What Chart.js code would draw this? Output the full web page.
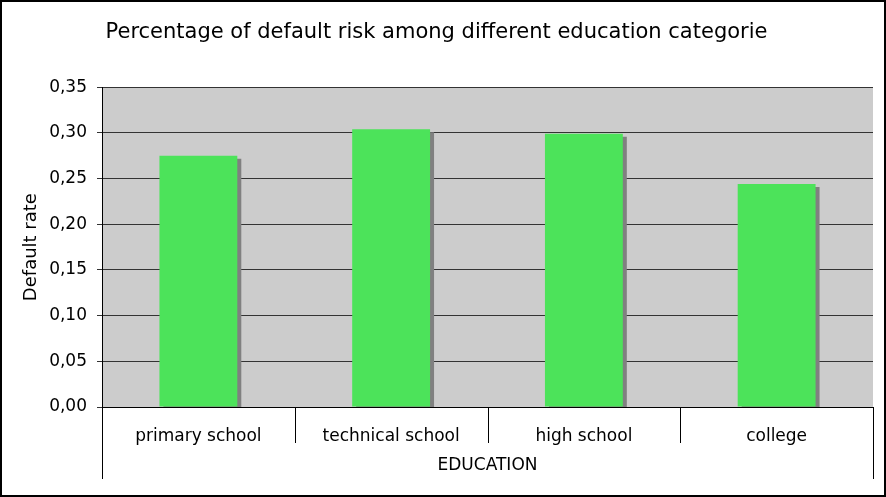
<!DOCTYPE html>
<html>
<head>
<meta charset="utf-8">
<script src="https://cdn.jsdelivr.net/npm/chart.js@4/dist/chart.umd.min.js"></script>
<style>
  html, body { margin: 0; padding: 0; background: #fff; }
  #wrap { width: 886px; height: 497px; position: relative; }
</style>
</head>
<body>
<div id="wrap"><canvas id="eduChart"></canvas></div>
<script>
// ---- data ----
var categories = ['primary school', 'technical school', 'high school', 'college'];
var defaultRates = [0.275, 0.304, 0.299, 0.244];
var yMin = 0, yMax = 0.35, yStep = 0.05;

var chartFont = 'DejaVu Sans';

// grey plot background + outer frame + category boxes
var frame = {
    id: 'frame',
    beforeDraw: function (chart) {
        var a = chart.chartArea, ctx = chart.ctx;
        ctx.save();
        ctx.fillStyle = '#fff';
        ctx.fillRect(0, 0, chart.width, chart.height);
        ctx.fillStyle = '#cccccc';
        ctx.fillRect(a.left, a.top, a.right - a.left, a.bottom - a.top);
        ctx.restore();
    },
    afterDraw: function (chart) {
        var a = chart.chartArea, ctx = chart.ctx, x = chart.scales.x;
        ctx.save();
        ctx.strokeStyle = '#000';
        ctx.lineWidth = 1;
        var n = categories.length;
        for (var i = 0; i <= n; i++) {
            var px;
            if (i === 0) px = a.left;
            else if (i === n) px = a.right;
            else px = (x.getPixelForValue(i - 1) + x.getPixelForValue(i)) / 2;
            px = Math.round(px) + 0.5;
            var end = (i === 0 || i === n) ? a.bottom + 72 : a.bottom + 36;
            ctx.beginPath();
            ctx.moveTo(px, a.bottom);
            ctx.lineTo(px, end);
            ctx.stroke();
        }
        ctx.lineWidth = 2;
        ctx.strokeRect(1, 1, chart.width - 2, chart.height - 2);
        ctx.restore();
    },
    beforeDatasetDraw: function (chart) {
        var ctx = chart.ctx;
        ctx.save();
        ctx.shadowColor = '#808080';
        ctx.shadowOffsetX = 4;
        ctx.shadowOffsetY = 3;
        ctx.shadowBlur = 0;
    },
    afterDatasetDraw: function (chart) {
        chart.ctx.restore();
    }
};

new Chart(document.getElementById('eduChart'), {
    type: 'bar',
    data: {
        labels: categories,
        datasets: [{
            label: 'Default rate',
            data: defaultRates,
            backgroundColor: '#4ce35a',
            borderWidth: 0,
            categoryPercentage: 1,
            barPercentage: 0.404
        }]
    },
    options: {
        responsive: true,
        maintainAspectRatio: false,
        animation: false,
        layout: { padding: { left: 0, right: 13, top: 0, bottom: 0 } },
        plugins: {
            legend: { display: false },
            tooltip: { enabled: false },
            title: {
                display: true,
                text: 'Percentage of default risk among different education categorie',
                color: '#000',
                font: { family: chartFont, size: 21, weight: 'normal' },
                padding: { top: 20, bottom: 42 }
            }
        },
        scales: {
            x: {
                grid: { display: false },
                border: { display: true, color: '#000', width: 1 },
                ticks: {
                    color: '#000',
                    font: { family: chartFont, size: 17 },
                    padding: 11,
                    maxRotation: 0
                },
                title: {
                    display: true,
                    text: 'EDUCATION',
                    color: '#000',
                    font: { family: chartFont, size: 17 },
                    padding: { top: 0, bottom: 21 }
                },
                afterFit: function (s) { s.height = 90; }
            },
            y: {
                min: yMin,
                max: yMax,
                ticks: {
                    stepSize: yStep,
                    color: '#000',
                    font: { family: chartFont, size: 17 },
                    padding: 10,
                    callback: function (v) { return v.toFixed(2).replace('.', ','); }
                },
                grid: { color: '#333', tickLength: 5, lineWidth: 1 },
                border: { display: true, color: '#000', width: 1 },
                title: {
                    display: true,
                    text: 'Default rate',
                    color: '#000',
                    font: { family: chartFont, size: 18 },
                    padding: { top: 21, bottom: 0 }
                },
                afterFit: function (s) { s.width = 102; }
            }
        }
    },
    plugins: [frame]
});
</script>
</body>
</html>
